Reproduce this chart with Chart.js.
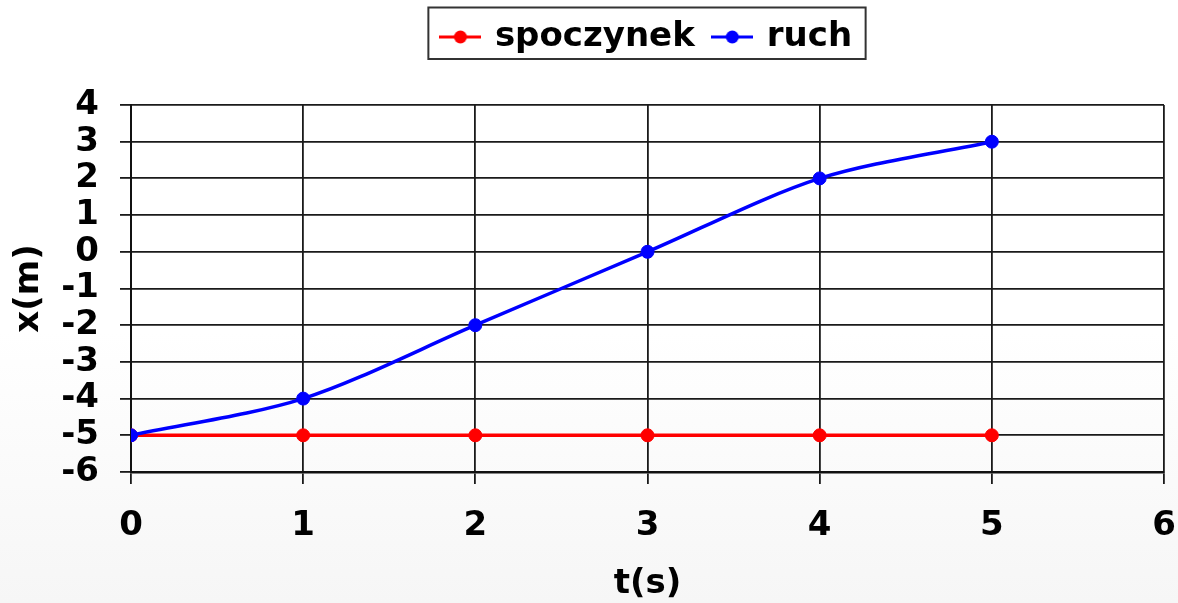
<!DOCTYPE html>
<html>
<head>
<meta charset="utf-8">
<title>x(t)</title>
<script src="https://cdn.jsdelivr.net/npm/chart.js@4.4.2/dist/chart.umd.min.js"></script>
<style>
  html, body { margin: 0; padding: 0; }
  body {
    width: 1178px;
    height: 603px;
    background: linear-gradient(to bottom, #ffffff 0%, #ffffff 55%, #f6f6f6 100%);
  }
  #wrap { position: relative; width: 1178px; height: 603px; }
</style>
</head>
<body>
<div id="wrap"><canvas id="chart" width="1178" height="603"></canvas></div>
<script>
const times = [0, 1, 2, 3, 4, 5];
const restValues = [-5, -5, -5, -5, -5, -5];
const motionValues = [-5, -4, -2, 0, 2, 3];
const seriesNames = ['spoczynek', 'ruch'];
const seriesColors = ['#ff0000', '#0000ff'];
const xTitle = 't(s)';
const yTitle = 'x(m)';
const xRange = [0, 6];
const yRange = [-6, 4];

const FONT = '"DejaVu Sans", Verdana, sans-serif';

// small line-with-dot picture used as the legend marker
function legendMarker(color) {
  const c = document.createElement('canvas');
  c.width = 42;
  c.height = 16;
  const ctx = c.getContext('2d');
  ctx.strokeStyle = color;
  ctx.lineWidth = 3;
  ctx.beginPath();
  ctx.moveTo(0, 8);
  ctx.lineTo(42, 8);
  ctx.stroke();
  ctx.fillStyle = color;
  ctx.beginPath();
  ctx.arc(21, 8, 6.5, 0, Math.PI * 2);
  ctx.fill();
  return c;
}

const markers = seriesColors.map(legendMarker);

// frame round the legend, and a taller legend box so the plot starts lower
const legendFrame = {
  id: 'legendFrame',
  afterInit(chart) {
    const legend = chart.legend;
    const baseFit = legend.fit;
    legend.fit = function () {
      baseFit.call(this);
      this.height = 105;
      if (this._minSize) this._minSize.height = 105;
    };
  },
  afterDraw(chart) {
    const boxes = chart.legend.legendHitBoxes;
    if (!boxes || !boxes.length) return;
    const first = boxes[0];
    const last = boxes[boxes.length - 1];
    const left = first.left - 14.5;
    const right = last.left + last.width + 13.5;
    const top = first.top - 12.5;
    const bottom = first.top + 39;
    const ctx = chart.ctx;
    ctx.save();
    ctx.strokeStyle = '#333333';
    ctx.lineWidth = 2;
    ctx.strokeRect(left, top, right - left, bottom - top);
    ctx.restore();
  }
};

const canvas = document.getElementById('chart');
const chart = new Chart(canvas, {
  type: 'line',
  data: {
    datasets: [{
      label: seriesNames[0],
      data: times.map((t, i) => ({ x: t, y: restValues[i] })),
      borderColor: seriesColors[0],
      backgroundColor: seriesColors[0],
      borderWidth: 3.5,
      pointRadius: 6.5,
      pointBorderWidth: 1,
      tension: 0,
      order: 1
    }, {
      label: seriesNames[1],
      data: times.map((t, i) => ({ x: t, y: motionValues[i] })),
      borderColor: seriesColors[1],
      backgroundColor: seriesColors[1],
      borderWidth: 3.5,
      pointRadius: 6.5,
      pointBorderWidth: 1,
      tension: 0.3,
      order: 0
    }]
  },
  options: {
    responsive: false,
    animation: false,
    layout: {
      padding: { top: 0, left: 0, right: 14, bottom: 0 }
    },
    plugins: {
      tooltip: { enabled: false },
      legend: {
        position: 'top',
        fullSize: false,
        align: 'center',
        labels: {
          usePointStyle: true,
          pointStyleWidth: 35,
          padding: 20,
          color: '#000000',
          font: { family: FONT, size: 34, weight: 'bold' },
          generateLabels: (c) => c.data.datasets.map((ds, i) => ({
            text: ds.label,
            pointStyle: markers[i],
            fillStyle: ds.borderColor,
            strokeStyle: ds.borderColor,
            lineWidth: 0,
            hidden: false,
            datasetIndex: i
          }))
        }
      }
    },
    scales: {
      x: {
        type: 'linear',
        min: xRange[0],
        max: xRange[1],
        afterFit: (scale) => {
          scale.height = 131;
          scale.paddingLeft = 0;
          scale.paddingRight = 0;
        },
        ticks: {
          stepSize: 1,
          padding: 22,
          color: '#000000',
          font: { family: FONT, size: 34, weight: 'bold', lineHeight: 1.2 }
        },
        grid: {
          color: '#1a1a1a',
          lineWidth: 1.8,
          tickLength: 12
        },
        border: { color: '#111111', width: 2.5 },
        title: {
          display: true,
          text: xTitle,
          color: '#000000',
          padding: { top: 0, bottom: 0 },
          font: { family: FONT, size: 34, weight: 'bold', lineHeight: 1.1 }
        }
      },
      y: {
        type: 'linear',
        min: yRange[0],
        max: yRange[1],
        afterFit: (scale) => { scale.width = 131; },
        ticks: {
          stepSize: 1,
          autoSkip: false,
          padding: 21,
          color: '#000000',
          font: { family: FONT, size: 34, weight: 'bold', lineHeight: 1 }
        },
        grid: {
          color: '#1a1a1a',
          lineWidth: 1.8,
          tickLength: 11
        },
        border: { color: '#111111', width: 2 },
        title: {
          display: true,
          text: yTitle,
          color: '#000000',
          padding: { top: 9, bottom: 0 },
          font: { family: FONT, size: 34, weight: 'bold', lineHeight: 1.2 }
        }
      }
    }
  },
  plugins: [legendFrame]
});
</script>
</body>
</html>
